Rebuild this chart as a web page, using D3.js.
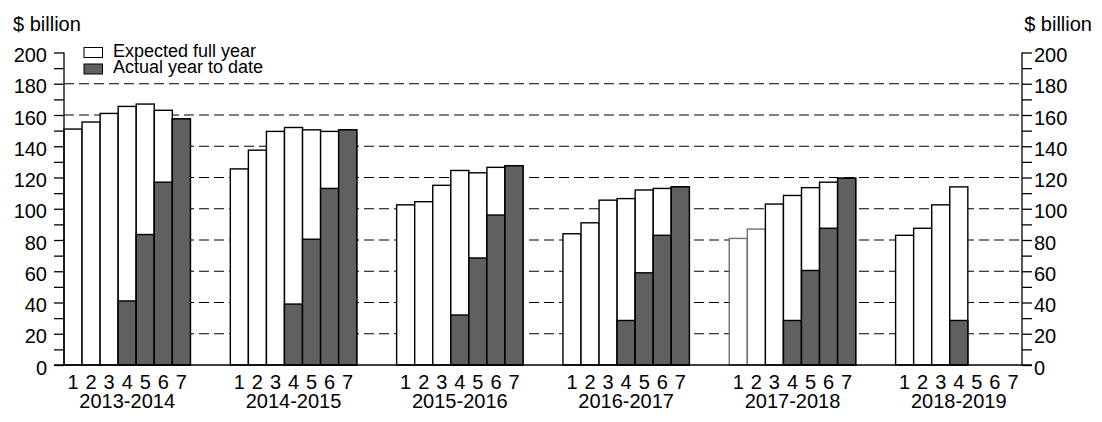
<!DOCTYPE html>
<html>
<head>
<meta charset="utf-8">
<script src="https://cdn.jsdelivr.net/npm/d3@7"></script>
<style>
  body { margin: 0; background: #fff; }
  text { font-family: "Liberation Sans", Arial, sans-serif; fill: #000; }
</style>
</head>
<body>
<div id="chart"></div>
<script>
// Data
const years = ['2013-2014', '2014-2015', '2015-2016', '2016-2017', '2017-2018', '2018-2019']
const months = ['1', '2', '3', '4', '5', '6', '7']
// Expected full year ($ billion), one row per year, one value per release
const expected = [
    [151, 155.5, 161, 165.5, 167, 163, 157.5],
    [125.5, 137.5, 149.5, 152, 150.5, 149.5, 150.5],
    [102.5, 104.5, 115, 124.5, 123, 126.5, 127.5],
    [84, 91, 105.5, 106.5, 112, 113, 114],
    [81, 87, 103, 108.5, 113.5, 117, 119.5],
    [83, 87.5, 102.5, 114, null, null, null]
]
// Actual year to date ($ billion)
const actual = [
    [null, null, null, 41, 83.5, 117, 157.5],
    [null, null, null, 39, 80.5, 113, 150.5],
    [null, null, null, 32, 68.5, 96, 127.5],
    [null, null, null, 28.5, 59, 83, 114],
    [null, null, null, 28.5, 60.5, 87.5, 119.5],
    [null, null, null, 28.5, null, null, null]
]
const yTicks = [0, 20, 40, 60, 80, 100, 120, 140, 160, 180, 200]
const legendLabels = ['Expected full year', 'Actual year to date']

// Layout
const width = 1102
const height = 422
const plotLeft = 64
const plotRight = 1022
const plotTop = 52.5
const plotBottom = 365
const darkFill = '#606060'

const svg = d3.select('#chart')
    .append('svg').attr('width', width).attr('height', height)

const yScale = d3.scaleLinear()
    .domain([0, 200])
    .range([plotBottom, plotTop])

const xGroup = d3.scaleBand()
    .domain(years)
    .range([plotLeft, plotRight])
    .paddingInner(0.24)
    .paddingOuter(0)

const xBar = d3.scaleBand()
    .domain(months)
    .range([0, xGroup.bandwidth()])
    .padding(0)

// Gridlines
svg.append('g')
    .selectAll('line')
    .data(yTicks.filter(d => d > 0 && d < 200))
    .join('line')
    .attr('x1', plotLeft)
    .attr('x2', plotRight)
    .attr('y1', d => yScale(d))
    .attr('y2', d => yScale(d))
    .attr('stroke', '#000')
    .attr('stroke-width', 1.1)
    .attr('stroke-dasharray', '10,5')

// Bars
const groups = svg.append('g')
    .selectAll('g')
    .data(years)
    .join('g')
    .attr('transform', d => `translate(${xGroup(d)},0)`)

groups.each(function (year, gi) {
    const g = d3.select(this)
    months.forEach((m, i) => {
        const e = expected[gi][i]
        const a = actual[gi][i]
        // the first releases of 2017-2018 are drawn with a lighter outline
        const stroke = (year === '2017-2018' && i < 2) ? '#707070' : '#000'
        if (e != null) {
            g.append('rect')
                .attr('x', xBar(m))
                .attr('y', yScale(e))
                .attr('width', xBar.bandwidth())
                .attr('height', yScale(0) - yScale(e))
                .attr('fill', '#fff')
                .attr('stroke', stroke)
                .attr('stroke-width', 1.4)
        }
        if (a != null) {
            g.append('rect')
                .attr('x', xBar(m))
                .attr('y', yScale(a))
                .attr('width', xBar.bandwidth())
                .attr('height', yScale(0) - yScale(a))
                .attr('fill', darkFill)
                .attr('stroke', '#000')
                .attr('stroke-width', 1.4)
        }
    })
})

// Axes
const leftAxis = d3.axisLeft(yScale)
    .tickValues(d3.range(0, 201, 10))
    .tickSize(10)
    .tickFormat('')
const rightAxis = d3.axisRight(yScale)
    .tickValues(d3.range(0, 201, 10))
    .tickSize(10)
    .tickFormat('')

const gl = svg.append('g')
    .attr('transform', `translate(${plotLeft},0)`)
    .call(leftAxis)
const gr = svg.append('g')
    .attr('transform', `translate(${plotRight},0)`)
    .call(rightAxis)

;[gl, gr].forEach(g => {
    g.select('.domain').remove()
    g.selectAll('line').attr('stroke', '#000').attr('stroke-width', 1.3)
    g.append('line')
        .attr('x1', 0).attr('x2', 0)
        .attr('y1', plotTop).attr('y2', plotBottom)
        .attr('stroke', '#000').attr('stroke-width', 1.3)
})

// baseline
svg.append('line')
    .attr('x1', plotLeft - 10)
    .attr('x2', plotRight + 10)
    .attr('y1', plotBottom)
    .attr('y2', plotBottom)
    .attr('stroke', '#000')
    .attr('stroke-width', 1.3)

// y tick labels
svg.append('g')
    .selectAll('text')
    .data(yTicks)
    .join('text')
    .attr('x', 47)
    .attr('y', d => yScale(d) + 9.5)
    .attr('text-anchor', 'end')
    .attr('font-size', 20)
    .text(d => d)

svg.append('g')
    .selectAll('text')
    .data(yTicks)
    .join('text')
    .attr('x', 1034)
    .attr('y', d => yScale(d) + 9.5)
    .attr('text-anchor', 'start')
    .attr('font-size', 20)
    .text(d => d)

// unit labels
svg.append('text')
    .attr('x', 13)
    .attr('y', 30.5)
    .attr('font-size', 20)
    .text('$ billion')
svg.append('text')
    .attr('x', 1092)
    .attr('y', 30.5)
    .attr('text-anchor', 'end')
    .attr('font-size', 20)
    .text('$ billion')

// x labels
groups.selectAll('text.month')
    .data(months)
    .join('text')
    .attr('class', 'month')
    .attr('x', d => xBar(d) + xBar.bandwidth() / 2)
    .attr('y', 389)
    .attr('text-anchor', 'middle')
    .attr('font-size', 20)
    .text(d => d)

groups.append('text')
    .attr('x', xGroup.bandwidth() / 2)
    .attr('y', 407.5)
    .attr('text-anchor', 'middle')
    .attr('font-size', 20)
    .text(d => d)

// Legend
const legend = svg.append('g')
legend.selectAll('rect')
    .data(legendLabels)
    .join('rect')
    .attr('x', 84)
    .attr('y', (d, i) => 47.5 + i * 16.5)
    .attr('width', 18.5)
    .attr('height', 10)
    .attr('fill', (d, i) => i === 0 ? '#fff' : darkFill)
    .attr('stroke', '#000')
    .attr('stroke-width', 1)
legend.selectAll('text')
    .data(legendLabels)
    .join('text')
    .attr('x', 113)
    .attr('y', (d, i) => 56.5 + i * 16)
    .attr('font-size', 18)
    .text(d => d)
</script>
</body>
</html>
